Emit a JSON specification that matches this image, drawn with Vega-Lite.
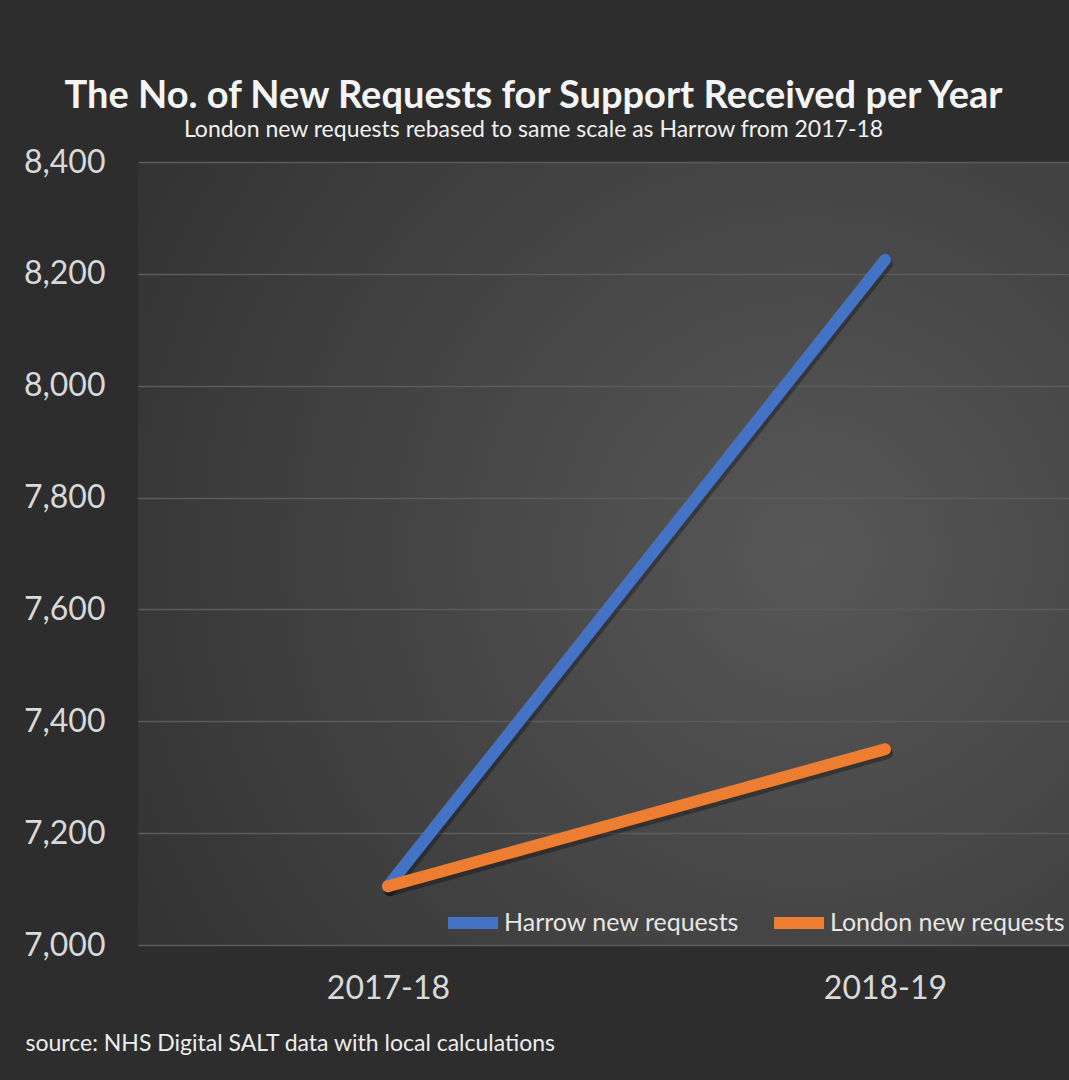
{
  "$schema": "https://vega.github.io/schema/vega-lite/v6.json",
  "width": 931,
  "height": 783,
  "autosize": {"type": "none"},
  "padding": {"left": 138, "top": 162, "right": 0, "bottom": 135},
  "background": "#2d2d2d",
  "config": {
    "font": "Lato",
    "view": {
      "stroke": null,
      "fill": {
        "gradient": "radial",
        "x1": 0.72, "y1": 0.5, "x2": 0.72, "y2": 0.5, "r1": 0, "r2": 0.85,
        "stops": [
          {"offset": 0, "color": "#575757"},
          {"offset": 1, "color": "#323232"}
        ]
      }
    }
  },
  "title": {
    "text": "The No. of New Requests for Support Received per Year",
    "subtitle": "London new requests rebased to same scale as Harrow from 2017-18",
    "fontSize": 38,
    "fontWeight": "bold",
    "color": "#f4f4f4",
    "subtitleFontSize": 23,
    "subtitleColor": "#f0f0f0",
    "subtitlePadding": 3,
    "anchor": "middle",
    "frame": "group",
    "dx": -70,
    "offset": 4
  },
  "data": {
    "values": [
      {"year": "2017-18", "series": "Harrow new requests", "value": 7105},
      {"year": "2018-19", "series": "Harrow new requests", "value": 8225},
      {"year": "2017-18", "series": "London new requests", "value": 7105},
      {"year": "2018-19", "series": "London new requests", "value": 7350}
    ]
  },
  "encoding": {
    "x": {
      "field": "year",
      "type": "ordinal",
      "scale": {"type": "point", "padding": 0.4366, "align": 0.576},
      "axis": {
        "labelAngle": 0,
        "labelFontSize": 32,
        "labelColor": "#d9d9d9",
        "labelPadding": 28,
        "ticks": false,
        "domain": false,
        "grid": false,
        "title": "source: NHS Digital SALT data with local calculations",
        "titleFontSize": 23,
        "titleFontWeight": "normal",
        "titleColor": "#ececec",
        "titleAnchor": "start",
        "titleAlign": "left",
        "titleBaseline": "middle",
        "titleX": -113,
        "titleY": 98
      }
    },
    "y": {
      "field": "value",
      "type": "quantitative",
      "scale": {"domain": [7000, 8400], "nice": false, "zero": false},
      "axis": {
        "values": [7000, 7200, 7400, 7600, 7800, 8000, 8200, 8400],
        "format": ",.0f",
        "labelFontSize": 32,
        "labelColor": "#d9d9d9",
        "labelPadding": 33,
        "ticks": false,
        "domain": false,
        "grid": true,
        "gridColor": "#5b5b5b",
        "gridWidth": 1.5,
        "title": null
      }
    }
  },
  "layer": [
    {
      "mark": {"type": "line", "strokeWidth": 12, "strokeCap": "round", "color": "#000000", "opacity": 0.3, "xOffset": 2, "yOffset": 4},
      "encoding": {"detail": {"field": "series"}}
    },
    {
      "mark": {"type": "line", "strokeWidth": 12, "strokeCap": "round"},
      "encoding": {
        "color": {
          "field": "series",
          "type": "nominal",
          "scale": {"domain": ["Harrow new requests", "London new requests"], "range": ["#4472C4", "#ED7D31"]},
          "legend": {
            "orient": "none",
            "legendX": 304,
            "legendY": 730,
            "direction": "horizontal",
            "title": null,
            "labelFontSize": 25,
            "labelLimit": 400,
            "labelColor": "#e6e6e6",
            "symbolType": "stroke",
            "symbolStrokeWidth": 12,
            "symbolSize": 2500,
            "columnPadding": 10,
            "labelOffset": 0
          }
        }
      }
    }
  ]
}
